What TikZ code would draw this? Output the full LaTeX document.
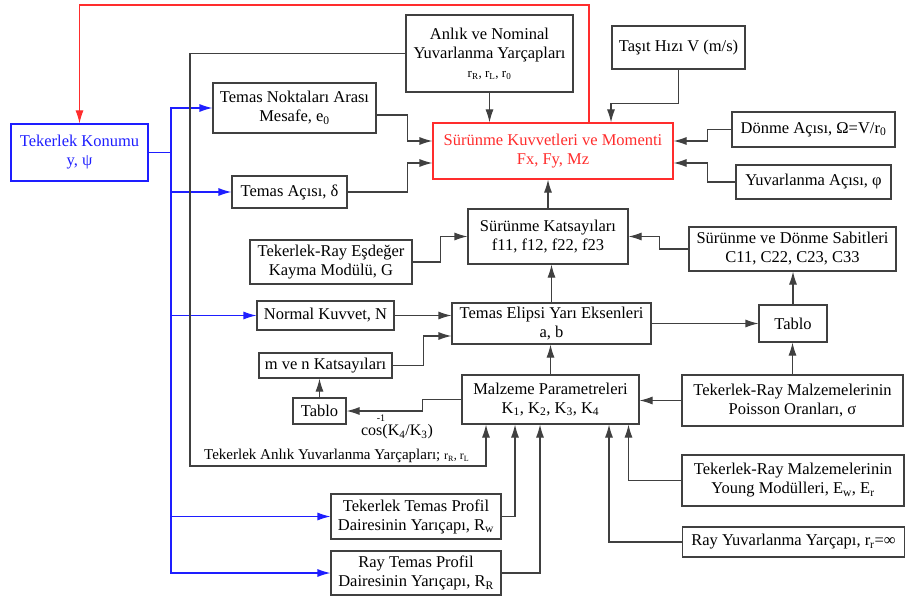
\documentclass[tikz,border=0pt]{standalone}
\usepackage{fontspec}
\setmainfont{Liberation Serif}
\usetikzlibrary{arrows.meta,positioning}
\definecolor{mavi}{RGB}{30,30,255}
\definecolor{kirmizi}{RGB}{255,45,45}
\definecolor{koyu}{RGB}{64,64,64}
\tikzset{
    %Define standard arrow tip
    >={Latex[length=13pt,width=8pt]},
    %Define style for boxes
    kutu/.style 2 args={
           rectangle,
           draw=koyu, line width=1.1pt,
           minimum width=#1,
           minimum height=#2,
           inner sep=1pt,
           font=\fontsize{16.5}{19}\selectfont,
           align=center,
           fill=white},
    % Define arrow style
    pil/.style={
           ->,
           draw=koyu, line width=1.1pt},
    hat/.style={draw=koyu, line width=1.1pt},
    yazi/.style={font=\fontsize{15}{17}\selectfont, inner sep=0pt}
}

\begin{document}
\begin{tikzpicture}[x=1pt,y=-1pt]
\useasboundingbox (0,0) rectangle (905,599);
% boxes
\node[kutu={137pt}{57pt}, draw=mavi, text=mavi](K) at (79.5,152.5){Tekerlek Konumu\\y, ψ};
\node[kutu={167pt}{77pt}](A) at (489.5,53.5){Anlık ve Nominal\\Yuvarlanma Yarçapları\\{\fontsize{13}{15}\selectfont r\textsubscript{R}, r\textsubscript{L}, r\textsubscript{0}}};
\node[kutu={163pt}{50pt}](M) at (294.5,108){Temas Noktaları Arası\\Mesafe, e\textsubscript{0}};
\node[kutu={240pt}{56pt}, draw=kirmizi, text=kirmizi](S) at (553,151){Sürünme Kuvvetleri ve Momenti\\Fx, Fy, Mz};
\node[kutu={133pt}{43pt}](V) at (678.5,47.5){Taşıt Hızı V (m/s)};
\node[kutu={163pt}{35pt}](D) at (813.5,129.5){Dönme Açısı, Ω=V/r\textsubscript{0}};
\node[kutu={155pt}{34pt}](Y) at (813.5,182){Yuvarlanma Açısı, φ};
\node[kutu={115pt}{32pt}](T) at (289.5,192){Temas Açısı, δ};
\node[kutu={160pt}{55pt}](F) at (548,236.5){Sürünme Katsayıları\\f11, f12, f22, f23};
\node[kutu={207pt}{44pt}](C) at (792.5,249){Sürünme ve Dönme Sabitleri\\C11, C22, C23, C33};
\node[kutu={162pt}{44pt}](G) at (331,262){Tekerlek-Ray Eşdeğer\\Kayma Modülü, G};
\node[kutu={137pt}{29pt}](N) at (325.5,315.5){Normal Kuvvet, N};
\node[kutu={199pt}{41pt}](E) at (551.5,323.5){Temas Elipsi Yarı Eksenleri\\a, b};
\node[kutu={68pt}{37pt}](TR) at (793,323.5){Tablo};
\node[kutu={133pt}{25pt}](MN) at (325.5,365.5){m ve n Katsayıları};
\node[kutu={177pt}{49pt}](P) at (550.5,399.5){Malzeme Parametreleri\\K\textsubscript{1}, K\textsubscript{2}, K\textsubscript{3}, K\textsubscript{4}};
\node[kutu={221pt}{51pt}](PO) at (792.5,400.5){Tekerlek-Ray Malzemelerinin\\Poisson Oranları, σ};
\node[kutu={53pt}{26pt}](TL) at (319.5,411){Tablo};
\node[kutu={170pt}{45pt}](RW) at (416,516.5){Tekerlek Temas Profil\\Dairesinin Yarıçapı, R\textsubscript{w}};
\node[kutu={170pt}{44pt}](RR) at (416,573){Ray Temas Profil\\Dairesinin Yarıçapı, R\textsubscript{R}};
\node[kutu={222pt}{51pt}](EY) at (793,480.5){Tekerlek-Ray Malzemelerinin\\Young Modülleri, E\textsubscript{w}, E\textsubscript{r}};
\node[kutu={222pt}{30pt}](RY) at (793.5,542){Ray Yuvarlanma Yarçapı, r\textsubscript{r}=∞};
% labels
\node[yazi, font=\fontsize{16}{18}\selectfont](COS) at (397,432){cos(K\textsubscript{4}/K\textsubscript{3})};
\node[yazi, font=\fontsize{10}{10}\selectfont](US) at (381,418){-1};
\node[yazi, anchor=west](AY) at (204,456){Tekerlek Anlık Yuvarlanma Yarçapları; {\fontsize{12}{13}\selectfont r\textsubscript{R}, r\textsubscript{L}}};
\coordinate (dal) at (171,152.5);
\coordinate (kose) at (190,466);
\coordinate (ust) at (0,5);
% red feedback
\draw[pil, draw=kirmizi] ([xshift=36pt]S.north) |- (K.north |- ust) -- (K.north);
% blue branches
\draw[hat, draw=mavi] (K.east) -- (dal);
\draw[pil, draw=mavi] (dal) |- (M.west);
\draw[pil, draw=mavi] (dal) |- (T.west);
\draw[pil, draw=mavi] (dal) |- (N.west);
\draw[pil, draw=mavi] (dal) |- (RW.west);
\draw[pil, draw=mavi] (dal) |- (RR.west);
% inputs of S
\draw[pil] ([yshift=-7pt]M.east) -- ++(31pt,0) |- ([yshift=10pt]S.west);
\draw[pil] (T.east) -- ++(60pt,0) |- ([yshift=-12pt]S.west);
\draw[pil] (A.south) -- (A.south |- S.north);
\draw[pil] (V.south) -- ++(0,-34pt) -| ([xshift=58pt]S.north);
\draw[pil] (D.west) -- ++(-24pt,0) |- ([yshift=10pt]S.east);
\draw[pil] (Y.west) -- ++(-28pt,0) |- ([yshift=-12pt]S.east);
\draw[pil] (F.north) -- (F.north |- S.south);
% inputs of F
\draw[pil] (G.east) -- ++(28pt,0) |- (F.west);
\draw[pil] (C.west) -- ++(-29pt,0) |- (F.east);
\draw[pil] (E.north) -- (E.north |- F.south);
% inputs of E
\draw[pil] (N.east) -- (N.east -| E.west);
\draw[pil] (MN.east) -- ++(31pt,0) |- ([yshift=-12.5pt]E.west);
\draw[pil] (E.east) -- (TR.west);
\draw[pil] (TR.north) -- (TR.north |- C.south);
\draw[pil] (PO.north) -- (PO.north |- TR.south);
\draw[pil] (PO.west) -- (PO.west -| P.east);
\draw[pil] (P.north) -- (P.north |- E.south);
\draw[pil] (P.west) -- ++(-39pt,0) |- (TL.east);
\draw[pil] (TL.north) -- (TL.north |- MN.south);
% inputs of P
\draw[pil] (A.west) -| (kose) -| ([xshift=-64.5pt]P.south);
\draw[pil] (RW.east) -| ([xshift=-35.5pt]P.south);
\draw[pil] (RR.east) -| ([xshift=-10.5pt]P.south);
\draw[pil] (RY.west) -| ([xshift=58.5pt]P.south);
\draw[pil] (EY.west) -| ([xshift=78pt]P.south);
\end{tikzpicture}
\end{document}
